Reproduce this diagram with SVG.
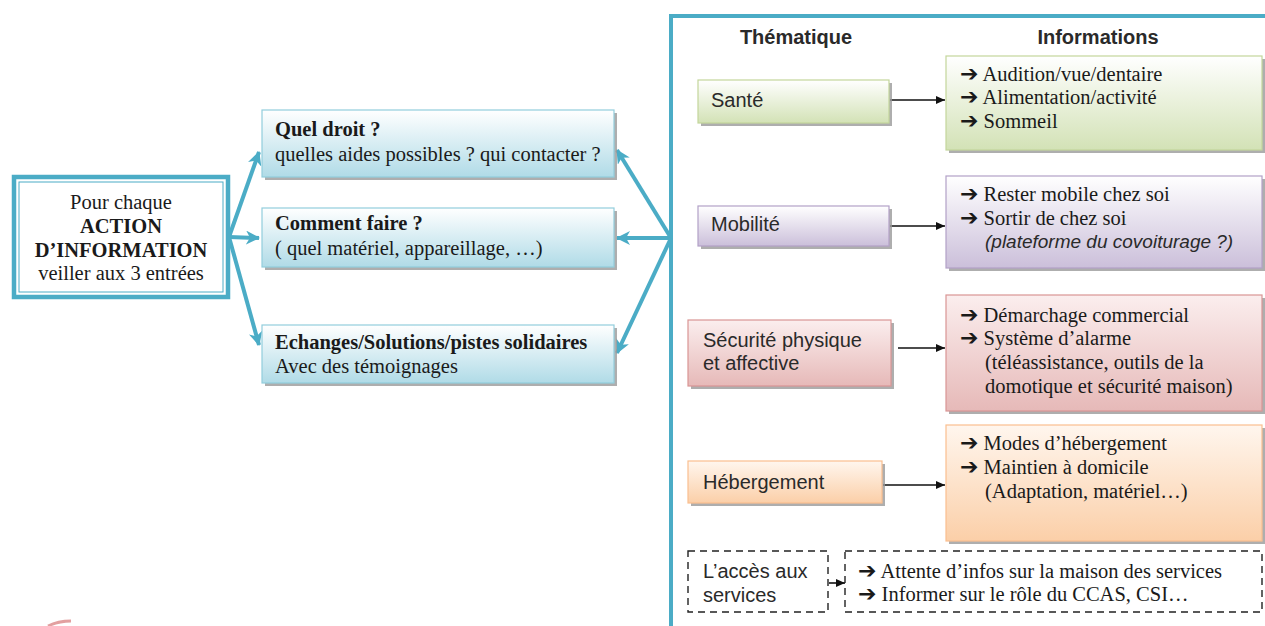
<svg xmlns="http://www.w3.org/2000/svg" width="1265" height="626" viewBox="0 0 1265 626">
<defs>
<linearGradient id="gBlue" x1="0" y1="0" x2="0" y2="1"><stop offset="0" stop-color="#ffffff"/><stop offset="1" stop-color="#b0dbe7"/></linearGradient>
<linearGradient id="gGreen" x1="0" y1="0" x2="0" y2="1"><stop offset="0" stop-color="#ffffff"/><stop offset="1" stop-color="#d3e2b6"/></linearGradient>
<linearGradient id="gPurple" x1="0" y1="0" x2="0" y2="1"><stop offset="0" stop-color="#ffffff"/><stop offset="1" stop-color="#cbbfda"/></linearGradient>
<linearGradient id="gPink" x1="0" y1="0" x2="0" y2="1"><stop offset="0" stop-color="#fbeeee"/><stop offset="1" stop-color="#e6b9b8"/></linearGradient>
<linearGradient id="gOrange" x1="0" y1="0" x2="0" y2="1"><stop offset="0" stop-color="#fff6ee"/><stop offset="1" stop-color="#fbcfa8"/></linearGradient>
<marker id="tealArrow" markerUnits="userSpaceOnUse" markerWidth="16" markerHeight="14" refX="13" refY="7" orient="auto">
<path d="M0,0 L14,7 L0,14 L4,7 Z" fill="#4bacc6"/>
</marker>
<marker id="blackArrow" markerUnits="userSpaceOnUse" markerWidth="10" markerHeight="10" refX="9" refY="5" orient="auto">
<path d="M0,1 L9,5 L0,9 Z" fill="#111"/>
</marker>
</defs>
<style>
.serif{font-family:"Liberation Serif","Times New Roman",serif;font-size:20.5px;fill:#1a1a1a}
.sans{font-family:"Liberation Sans",Arial,sans-serif;font-size:20px;fill:#2a2a2a}
.b{font-weight:bold}
.it{font-style:italic}
.arr{font-family:"DejaVu Sans",sans-serif;font-weight:bold;font-size:22px}
.shadow{fill:#9a9a9a;opacity:0.8}
.teal{stroke:#4bacc6;stroke-width:4;fill:none}
.blk{stroke:#111;stroke-width:1.6;fill:none}
.dash{fill:#fff;stroke:#222;stroke-width:1.4;stroke-dasharray:7,5}
</style>
<rect width="1265" height="626" fill="#ffffff"/>

<!-- big frame -->
<g id="frame">
<path d="M671,626 L671,16 L1265,16" class="teal" stroke-width="4.5"/>
<text x="796" y="44" class="sans b" text-anchor="middle">Thématique</text>
<text x="1098" y="44" class="sans b" text-anchor="middle">Informations</text>
</g>

<!-- connectors -->
<g id="connectors">
<line x1="229" y1="237" x2="259" y2="152" class="teal" marker-end="url(#tealArrow)"/>
<line x1="229" y1="237" x2="259" y2="238" class="teal" marker-end="url(#tealArrow)"/>
<line x1="229" y1="237" x2="259" y2="345" class="teal" marker-end="url(#tealArrow)"/>
<line x1="671" y1="238" x2="617" y2="150" class="teal" marker-end="url(#tealArrow)"/>
<line x1="671" y1="238" x2="617" y2="238" class="teal" marker-end="url(#tealArrow)"/>
<line x1="671" y1="238" x2="617" y2="353" class="teal" marker-end="url(#tealArrow)"/>
<line x1="890" y1="100" x2="945" y2="100" class="blk" marker-end="url(#blackArrow)"/>
<line x1="890" y1="226" x2="945" y2="226" class="blk" marker-end="url(#blackArrow)"/>
<line x1="898" y1="348" x2="945" y2="348" class="blk" stroke-width="1.1" marker-end="url(#blackArrow)"/>
<line x1="883" y1="485" x2="945" y2="485" class="blk" marker-end="url(#blackArrow)"/>
<line x1="829" y1="583" x2="845" y2="583" class="blk" marker-end="url(#blackArrow)"/>
</g>

<!-- left node -->
<g id="action">
<rect x="14" y="177" width="214" height="120" fill="#fff" stroke="#4bacc6" stroke-width="4.5"/>
<rect x="19" y="182" width="204" height="110" fill="none" stroke="#4bacc6" stroke-width="1"/>
<text x="121" y="209" class="serif" text-anchor="middle">Pour chaque</text>
<text x="121" y="233" class="serif b" text-anchor="middle">ACTION</text>
<text x="121" y="257" class="serif b" text-anchor="middle">D’INFORMATION</text>
<text x="121" y="280" class="serif" text-anchor="middle">veiller aux 3 entrées</text>
</g>

<!-- middle nodes -->
<g id="droit">
<rect x="265" y="113" width="352" height="67" class="shadow"/>
<rect x="262" y="110" width="352" height="67" fill="url(#gBlue)" stroke="#92cddc" stroke-width="1.2"/>
<text x="275" y="136" class="serif b">Quel droit ?</text>
<text x="275" y="161" class="serif">quelles aides possibles ? qui contacter ?</text>
</g>
<g id="comment">
<rect x="265" y="211" width="352" height="59" class="shadow"/>
<rect x="262" y="208" width="352" height="59" fill="url(#gBlue)" stroke="#92cddc" stroke-width="1.2"/>
<text x="275" y="230" class="serif b">Comment faire ?</text>
<text x="275" y="255" class="serif">( quel matériel, appareillage, …)</text>
</g>
<g id="echanges">
<rect x="265" y="328" width="352" height="58" class="shadow"/>
<rect x="262" y="325" width="352" height="58" fill="url(#gBlue)" stroke="#92cddc" stroke-width="1.2"/>
<text x="275" y="349" class="serif b">Echanges/Solutions/pistes solidaires</text>
<text x="275" y="373" class="serif">Avec des témoignages</text>
</g>

<!-- Santé -->
<g id="sante">
<rect x="701" y="83" width="191" height="43" class="shadow"/>
<rect x="698" y="80" width="191" height="43" fill="url(#gGreen)" stroke="#c3d69b" stroke-width="1.2"/>
<text x="711" y="107" class="sans">Santé</text>
</g>
<g id="sante-info">
<rect x="949" y="59" width="316" height="94" class="shadow"/>
<rect x="946" y="56" width="316" height="94" fill="url(#gGreen)" stroke="#c3d69b" stroke-width="1.2"/>
<text x="960" y="81" class="serif"><tspan class="arr">➔</tspan> Audition/vue/dentaire</text>
<text x="960" y="104" class="serif"><tspan class="arr">➔</tspan> Alimentation/activité</text>
<text x="960" y="128" class="serif"><tspan class="arr">➔</tspan> Sommeil</text>
</g>

<!-- Mobilité -->
<g id="mobilite">
<rect x="701" y="209" width="191" height="40" class="shadow"/>
<rect x="698" y="206" width="191" height="40" fill="url(#gPurple)" stroke="#b2a1c7" stroke-width="1.2"/>
<text x="711" y="231" class="sans">Mobilité</text>
</g>
<g id="mobilite-info">
<rect x="949" y="179" width="316" height="92" class="shadow"/>
<rect x="946" y="176" width="316" height="92" fill="url(#gPurple)" stroke="#b2a1c7" stroke-width="1.2"/>
<text x="960" y="201" class="serif"><tspan class="arr">➔</tspan> Rester mobile chez soi</text>
<text x="960" y="225" class="serif"><tspan class="arr">➔</tspan> Sortir de chez soi</text>
<text x="985" y="248" class="sans it" style="font-size:19px" fill="#333">(plateforme du covoiturage ?)</text>
</g>

<!-- Sécurité -->
<g id="securite">
<rect x="691" y="323" width="203" height="66" class="shadow"/>
<rect x="688" y="320" width="203" height="66" fill="url(#gPink)" stroke="#d99594" stroke-width="1.2"/>
<text x="703" y="347" class="sans">Sécurité physique</text>
<text x="703" y="370" class="sans">et affective</text>
</g>
<g id="securite-info">
<rect x="949" y="298" width="316" height="116" class="shadow"/>
<rect x="946" y="295" width="316" height="116" fill="url(#gPink)" stroke="#d99594" stroke-width="1.2"/>
<text x="960" y="322" class="serif"><tspan class="arr">➔</tspan> Démarchage commercial</text>
<text x="960" y="345" class="serif"><tspan class="arr">➔</tspan> Système d’alarme</text>
<text x="985" y="369" class="serif">(téléassistance, outils de la</text>
<text x="985" y="393" class="serif">domotique et sécurité maison)</text>
</g>

<!-- Hébergement -->
<g id="hebergement">
<rect x="691" y="464" width="194" height="42" class="shadow"/>
<rect x="688" y="461" width="194" height="42" fill="url(#gOrange)" stroke="#fabf8f" stroke-width="1.2"/>
<text x="703" y="489" class="sans">Hébergement</text>
</g>
<g id="hebergement-info">
<rect x="949" y="428" width="316" height="116" class="shadow"/>
<rect x="946" y="425" width="316" height="116" fill="url(#gOrange)" stroke="#fabf8f" stroke-width="1.2"/>
<text x="960" y="450" class="serif"><tspan class="arr">➔</tspan> Modes d’hébergement</text>
<text x="960" y="474" class="serif"><tspan class="arr">➔</tspan> Maintien à domicile</text>
<text x="985" y="498" class="serif">(Adaptation, matériel…)</text>
</g>

<!-- Accès aux services -->
<g id="acces">
<rect x="688" y="551" width="140" height="61" class="dash"/>
<text x="703" y="578" class="sans">L’accès aux</text>
<text x="703" y="602" class="sans">services</text>
</g>
<g id="acces-info">
<rect x="845" y="551" width="417" height="61" class="dash"/>
<text x="858" y="578" class="serif"><tspan class="arr">➔</tspan> Attente d’infos sur la maison des services</text>
<text x="858" y="601" class="serif"><tspan class="arr">➔</tspan> Informer sur le rôle du CCAS, CSI…</text>
</g>

<path d="M48,626 Q58,621 71,621" stroke="#e2a0a0" stroke-width="3" fill="none"/>
</svg>
